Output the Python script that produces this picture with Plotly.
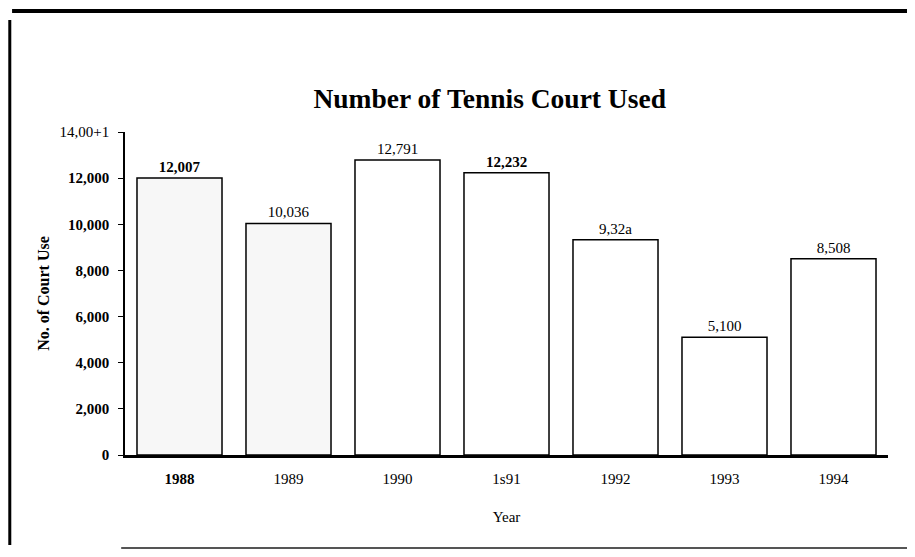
import plotly.graph_objects as go

years = ["1988", "1989", "1990", "1991", "1992", "1993", "1994"]
year_labels = ["<b>1988</b>", "1989", "1990", "1s91", "1992", "1993", "1994"]
courts_used = [12007, 10036, 12791, 12232, 9328, 5100, 8508]
value_labels = ["<b>12,007</b>", "10,036", "12,791", "<b>12,232</b>", "9,32a", "5,100", "8,508"]
bar_fills = ["#f7f7f7", "#f7f7f7", "white", "white", "white", "white", "white"]
y_tick_vals = [0, 2000, 4000, 6000, 8000, 10000, 12000, 14000]
y_tick_text = ["<b>0</b>", "<b>2,000</b>", "<b>4,000</b>", "<b>6,000</b>", "<b>8,000</b>",
               "<b>10,000</b>", "<b>12,000</b>", "14,00+1"]

serif = "Liberation Serif, Times New Roman, serif"

fig = go.Figure(go.Bar(
    x=years, y=courts_used,
    text=value_labels, textposition="outside", cliponaxis=False,
    textfont=dict(family=serif, size=15, color="black"),
    marker=dict(color=bar_fills, line=dict(color="black", width=1.5)),
    width=0.78,
))

# page body has an 8px margin, so figure is sized to fit the window
fig.update_layout(
    width=907, height=549,
    paper_bgcolor="white", plot_bgcolor="white",
    margin=dict(l=117, r=27, t=124, b=102),
    title=dict(text="<b>Number of Tennis Court Used</b>", x=0.478, xref="paper",
               xanchor="center", y=0.835, yanchor="middle",
               font=dict(family=serif, size=27.5, color="black")),
    font=dict(family=serif, color="black"),
    showlegend=False,
)
fig.update_xaxes(
    tickvals=years, ticktext=year_labels,
    tickfont=dict(family=serif, size=15, color="black"),
    showline=True, linecolor="black", linewidth=2.5,
    ticks="", ticklabelstandoff=8,
    title=dict(text="Year", font=dict(family=serif, size=15, color="black"), standoff=26),
    showgrid=False,
)
fig.update_yaxes(
    range=[0, 14000],
    tickvals=y_tick_vals, ticktext=y_tick_text,
    tickfont=dict(family=serif, size=15, color="black"),
    showline=True, linecolor="black", linewidth=1.5,
    ticks="outside", ticklen=5, tickcolor="black", ticklabelstandoff=6,
    showgrid=False, zeroline=False,
    title=dict(text="<b>No. of Court Use</b>", font=dict(family=serif, size=16, color="black"),
               standoff=6),
)

# page frame lines from the scanned document
fig.add_shape(type="line", xref="paper", yref="paper", x0=-0.148, x1=1.029, y0=1.375, y1=1.375,
              line=dict(color="black", width=4))
fig.add_shape(type="line", xref="paper", yref="paper", x0=-0.151, x1=-0.151, y0=1.347, y1=-0.279,
              line=dict(color="black", width=3))
fig.add_shape(type="line", xref="paper", yref="paper", x0=-0.005, x1=1.035, y0=-0.288, y1=-0.288,
              line=dict(color="#555555", width=2))

fig.write_html("out.html")
